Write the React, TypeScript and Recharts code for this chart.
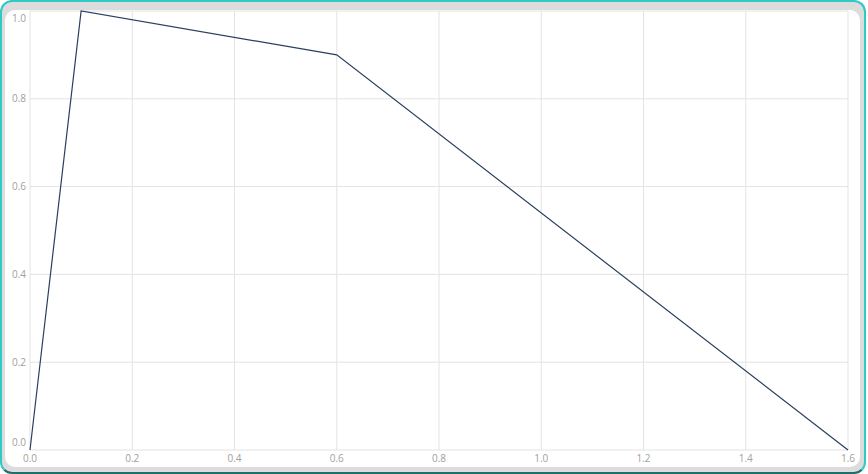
import { CartesianGrid, Line, LineChart, XAxis, YAxis } from "recharts";

const xValues = [0, 0.1, 0.6, 1.6];
const yValues = [0, 1.0, 0.9, 0];
const xTicks = [0, 0.2, 0.4, 0.6, 0.8, 1.0, 1.2, 1.4, 1.6];
const yTicks = [0, 0.2, 0.4, 0.6, 0.8, 1.0];

const data = xValues.map((x, i) => ({ x, y: yValues[i] }));

const labelStyle = { fontSize: 10, fill: "#a0a0a0", fontFamily: "Open Sans" };

function YTick(props: any) {
  const { x, y, payload } = props;
  // keep the end labels inside the plot box, as in the original
  let dy = 3.5;
  if (payload.value === 1) dy = 10.5;
  if (payload.value === 0) dy = -4.5;
  return (
    <text x={x} y={y} dy={dy} textAnchor="end" style={labelStyle}>
      {Number(payload.value).toFixed(1)}
    </text>
  );
}

export default function App() {
  return (
    <div style={{ position: "fixed", left: 0, top: 0, width: 868, height: 474 }}>
      <div
        style={{
          position: "absolute",
          left: 0,
          top: 0,
          width: 866,
          height: 474,
          boxSizing: "border-box",
          border: "2px solid #2fc9c6",
          borderBottomColor: "#1d6f6c",
          borderRadius: 12,
          background: "#dcdcdc",
        }}
      />
      <div
        style={{
          position: "absolute",
          left: 5,
          top: 10,
          width: 855,
          height: 457,
          borderRadius: 10,
          background: "#ffffff",
        }}
      />
      <div style={{ position: "absolute", left: 0, top: 0 }}>
        <LineChart
          width={868}
          height={474}
          data={data}
          margin={{ top: 11, right: 20, bottom: 0, left: 0 }}
        >
          <CartesianGrid stroke="#e3e3e3" strokeWidth={1} />
          <XAxis
            dataKey="x"
            type="number"
            domain={[0, 1.6]}
            ticks={xTicks}
            tickFormatter={(v: number) => v.toFixed(1)}
            axisLine={false}
            tickLine={false}
            tickSize={3}
            tickMargin={2}
            height={24}
            tick={labelStyle}
            interval={0}
          />
          <YAxis
            type="number"
            domain={[0, 1]}
            ticks={yTicks}
            axisLine={false}
            tickLine={false}
            tickSize={4}
            tickMargin={0}
            width={30}
            tick={<YTick />}
            interval={0}
          />
          <Line
            type="linear"
            dataKey="y"
            stroke="#2a3f5f"
            strokeWidth={1.2}
            dot={false}
            isAnimationActive={false}
          />
        </LineChart>
      </div>
    </div>
  );
}
